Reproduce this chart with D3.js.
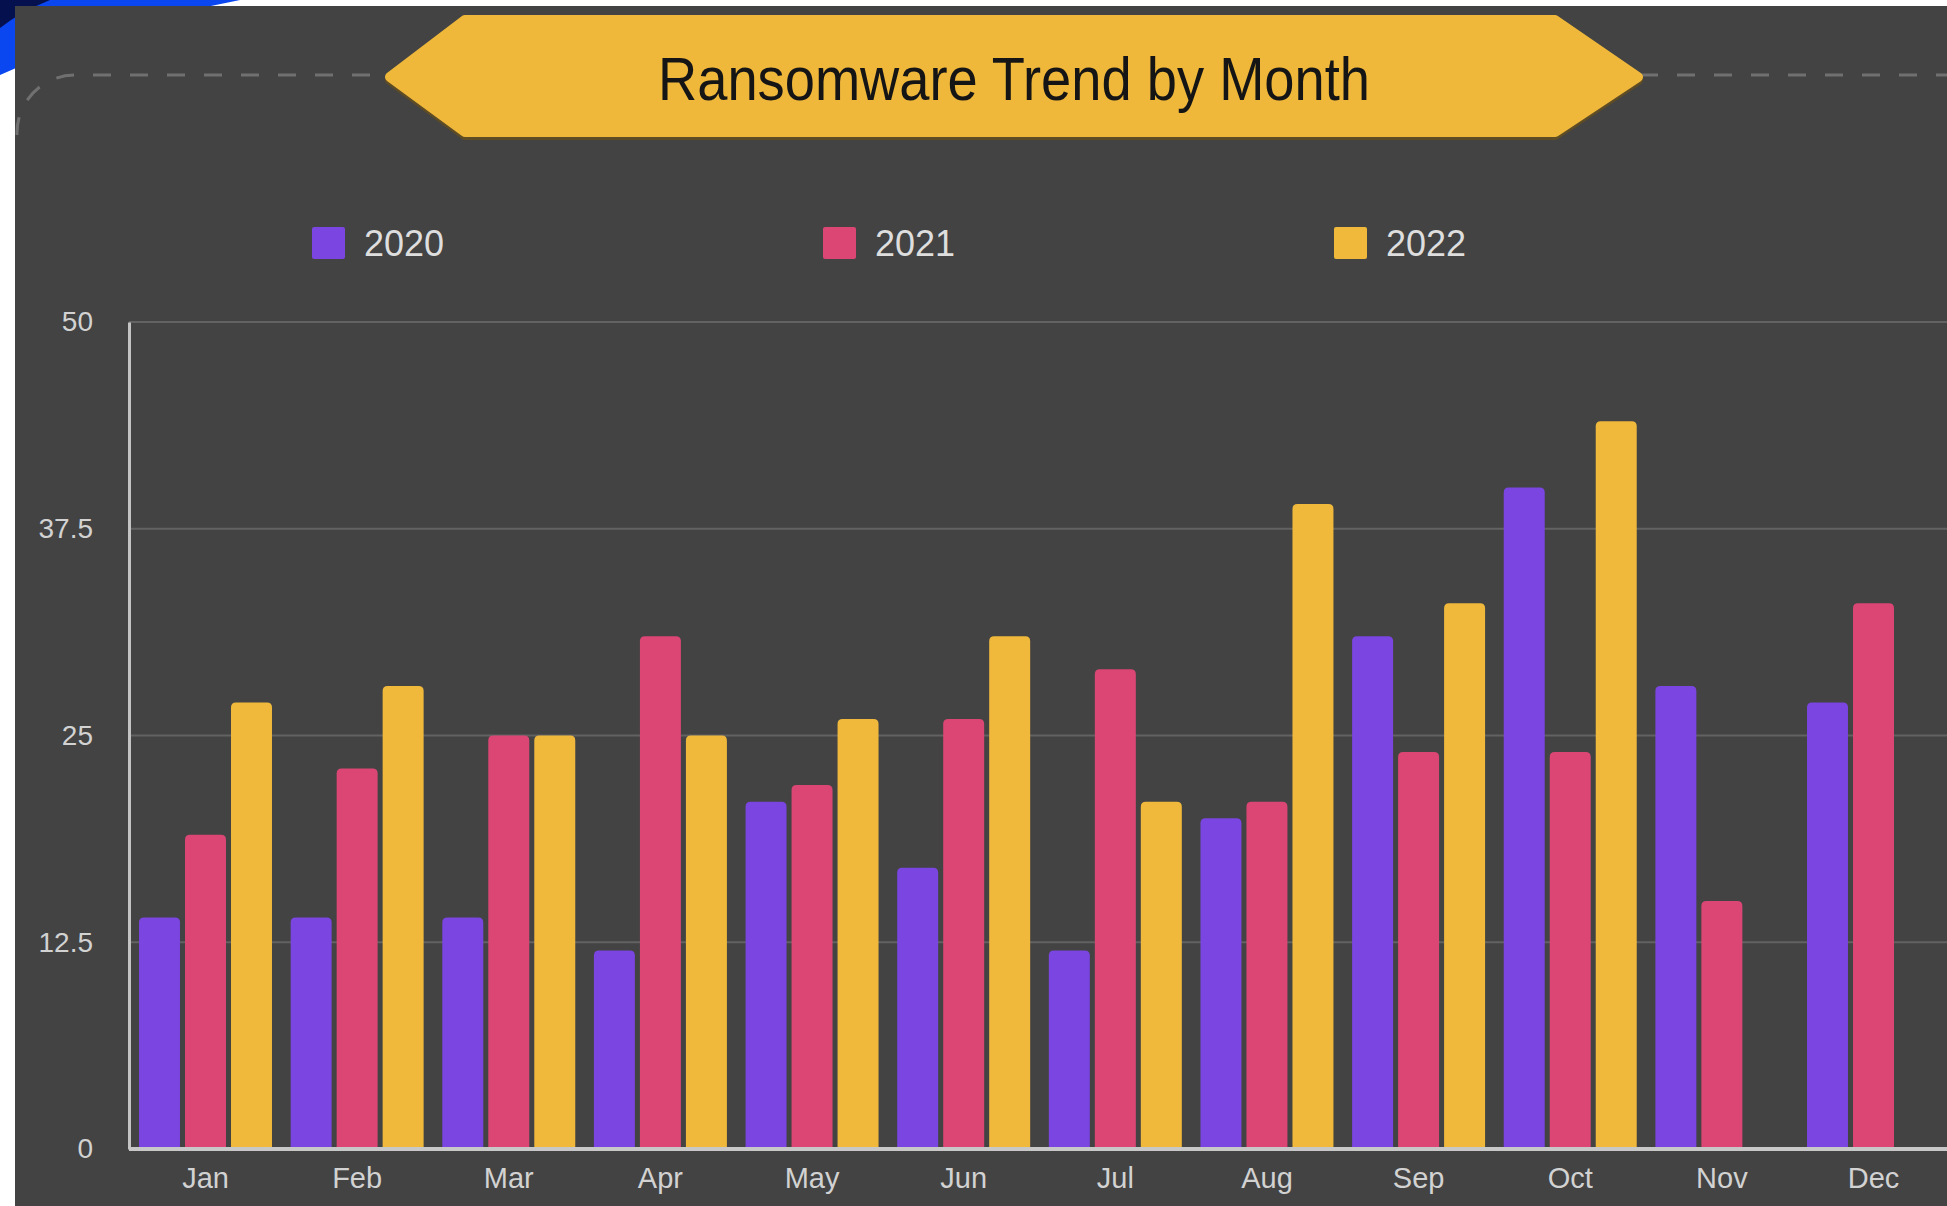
<!DOCTYPE html>
<html>
<head>
<meta charset="utf-8">
<script src="https://cdn.jsdelivr.net/npm/d3@7"></script>
<style>
  body { margin: 0; background: #fff; }
  svg { display: block; }
  text { font-family: "Liberation Sans", Arial, Helvetica, sans-serif; }
</style>
</head>
<body>
<svg id="chart" width="1947" height="1206"></svg>
<script>
// data
const months = ["Jan", "Feb", "Mar", "Apr", "May", "Jun", "Jul", "Aug", "Sep", "Oct", "Nov", "Dec"];
const years = ["2020", "2021", "2022"];
const values2020 = [14, 14, 14, 12, 21, 17, 12, 20, 31, 40, 28, 27];
const values2021 = [19, 23, 25, 31, 22, 26, 29, 21, 24, 24, 15, 33];
const values2022 = [27, 28, 25, 25, 26, 31, 21, 39, 33, 44, null, null];
const yTicks = [0, 12.5, 25, 37.5, 50];
const colors = ["#7a45e0", "#db4675", "#f0b93c"];

const seriesValues = [values2020, values2021, values2022];

const svg = d3.select("#chart");
const W = 1947, H = 1206;

// top-left blue swoosh behind the panel
svg.append("path")
    .attr("d", "M0,0 L240,0 Q110,25 0,75 Z")
    .attr("fill", "#0a47f0");
svg.append("path")
    .attr("d", "M0,0 L50,0 Q20,12 0,28 Z")
    .attr("fill", "#05104f");

// dark panel
svg.append("rect")
    .attr("x", 15).attr("y", 6)
    .attr("width", W - 15).attr("height", H - 6)
    .attr("fill", "#434343");

// dashed frame line behind the title banner
svg.append("path")
    .attr("d", "M17,135 A58,58 0 0 1 75,75 L390,75 M1640,75 L1947,75")
    .attr("fill", "none")
    .attr("stroke", "#707070")
    .attr("stroke-width", 3)
    .attr("stroke-dasharray", "18 19");

// title banner
const bannerPts = [[390, 77], [465, 20], [1555, 20], [1638, 77], [1555, 132], [465, 132]];
svg.append("polygon")
    .attr("points", bannerPts.map(p => [p[0], p[1] + 3].join(",")).join(" "))
    .attr("fill", "#5e4c25")
    .attr("stroke", "#5e4c25")
    .attr("stroke-width", 10)
    .attr("stroke-linejoin", "round");
svg.append("polygon")
    .attr("points", bannerPts.map(p => p.join(",")).join(" "))
    .attr("fill", "#f0b83b")
    .attr("stroke", "#f0b83b")
    .attr("stroke-width", 10)
    .attr("stroke-linejoin", "round");
svg.append("text")
    .attr("x", 1014).attr("y", 78)
    .attr("dy", "0.36em")
    .attr("text-anchor", "middle")
    .attr("font-size", 62)
    .attr("textLength", 712)
    .attr("lengthAdjust", "spacingAndGlyphs")
    .attr("fill", "#151515")
    .text("Ransomware Trend by Month");

// legend
const legendX = d3.scaleOrdinal().domain(years).range([312, 823, 1334]);
const legend = svg.append("g").selectAll("g")
    .data(years)
    .join("g")
    .attr("transform", d => `translate(${legendX(d)},243)`);
legend.append("rect")
    .attr("x", 0).attr("y", -16)
    .attr("width", 33).attr("height", 32)
    .attr("rx", 2)
    .attr("fill", (d, i) => colors[i]);
legend.append("text")
    .attr("x", 52).attr("y", 0)
    .attr("dy", "0.36em")
    .attr("font-size", 36)
    .attr("fill", "#dedede")
    .text(d => d);

// scales
const x0 = 129, x1 = 1950, y0 = 1149, y1 = 322;
const x = d3.scaleBand().domain(months).range([x0, x1]).paddingInner(0.123).paddingOuter(0.066);
const xs = d3.scaleBand().domain(years).range([0, x.bandwidth()]).paddingInner(0.109);
const y = d3.scaleLinear().domain([0, 50]).range([y0, y1]);

// grid lines
svg.append("g").selectAll("line")
    .data(yTicks.filter(t => t > 0))
    .join("line")
    .attr("x1", x0).attr("x2", W)
    .attr("y1", d => y(d)).attr("y2", d => y(d))
    .attr("stroke", "#626262")
    .attr("stroke-width", 2);

// bars with rounded tops
const r = 5;
const barData = [];
months.forEach((m, i) => {
    years.forEach((yr, j) => {
        const v = seriesValues[j][i];
        if (v != null) barData.push({ month: m, year: yr, value: v, color: colors[j] });
    });
});
svg.append("g").selectAll("path")
    .data(barData)
    .join("path")
    .attr("d", d => {
        const bx = x(d.month) + xs(d.year);
        const bw = xs.bandwidth();
        const top = y(d.value);
        return `M${bx},${y0} L${bx},${top + r} Q${bx},${top} ${bx + r},${top} ` +
               `L${bx + bw - r},${top} Q${bx + bw},${top} ${bx + bw},${top + r} L${bx + bw},${y0} Z`;
    })
    .attr("fill", d => d.color);

// y axis
const yAxis = svg.append("g")
    .attr("transform", `translate(${x0},0)`)
    .call(d3.axisLeft(y).tickValues(yTicks).tickSize(0).tickPadding(36).tickFormat(d => d));
yAxis.select(".domain").attr("stroke", "#c4c4c4").attr("stroke-width", 3);
yAxis.selectAll("text").attr("font-size", 28).attr("fill", "#d2d2d2")
    .style("font-family", "'Liberation Sans', Arial, sans-serif");

// x axis
const xAxis = svg.append("g")
    .attr("transform", `translate(0,${y0})`)
    .call(d3.axisBottom(x).tickSize(0).tickPadding(18));
xAxis.select(".domain").attr("d", `M${x0},0H${W}`).attr("stroke", "#c8c8c8").attr("stroke-width", 4);
xAxis.selectAll("text").attr("font-size", 29).attr("fill", "#d2d2d2")
    .style("font-family", "'Liberation Sans', Arial, sans-serif");
</script>
</body>
</html>
